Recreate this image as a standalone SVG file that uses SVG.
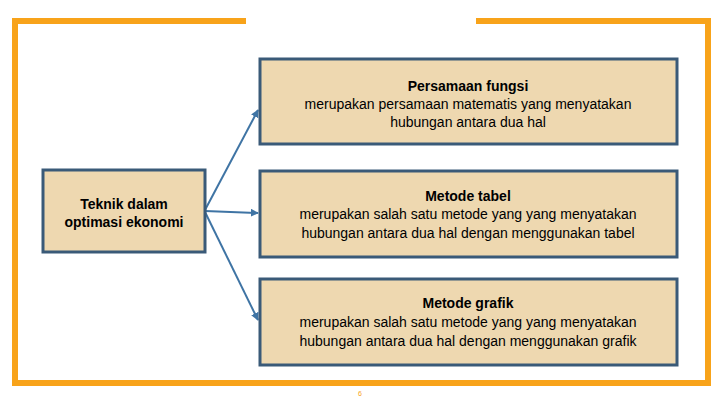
<svg xmlns="http://www.w3.org/2000/svg" width="720" height="405" viewBox="0 0 720 405">
<style>
.b{fill:#eed8b0;stroke:#3a5a78;stroke-width:3}
.t{font-family:"Liberation Sans",Arial,sans-serif;font-size:14px;fill:#000;text-anchor:middle}
.h{font-weight:bold}
.f{fill:#f8a31a}
.c{stroke:#3f74a4;stroke-width:2;fill:none;marker-end:url(#a)}
</style>
<defs><marker id="a" viewBox="0 0 10 10" refX="9" refY="5" markerWidth="4" markerHeight="4" orient="auto"><path d="M0,0L10,5L0,10z" fill="#3f74a4"/></marker></defs>
<rect width="720" height="405" fill="#fff"/>
<g id="frame">
<rect class="f" x="12" y="18" width="234" height="6"/>
<rect class="f" x="476" y="18" width="235" height="6"/>
<rect class="f" x="12" y="18" width="6" height="368"/>
<rect class="f" x="705" y="18" width="6" height="368"/>
<rect class="f" x="12" y="380" width="699" height="6"/>
</g>
<g id="connectors">
<path class="c" d="M205,210L258,110"/>
<path class="c" d="M205,211L258,213"/>
<path class="c" d="M205,212L258,320"/>
</g>
<g id="n0"><rect class="b" x="43" y="170" width="162" height="82"/>
<text class="t h" x="124" y="209">Teknik dalam</text><text class="t h" x="124" y="227">optimasi ekonomi</text></g>
<g id="n1"><rect class="b" x="260" y="59" width="417" height="85"/>
<text class="t h" x="468" y="91">Persamaan fungsi</text>
<text class="t" x="468" y="109">merupakan persamaan matematis yang menyatakan</text>
<text class="t" x="468" y="127">hubungan antara dua hal</text></g>
<g id="n2"><rect class="b" x="260" y="171" width="417" height="86"/>
<text class="t h" x="468" y="201">Metode tabel</text>
<text class="t" x="468" y="219">merupakan salah satu metode yang yang menyatakan</text>
<text class="t" x="468" y="238">hubungan antara dua hal dengan menggunakan tabel</text></g>
<g id="n3"><rect class="b" x="260" y="279" width="417" height="86"/>
<text class="t h" x="468" y="308">Metode grafik</text>
<text class="t" x="468" y="327">merupakan salah satu metode yang yang menyatakan</text>
<text class="t" x="468" y="346">hubungan antara dua hal dengan menggunakan grafik</text></g>
<text x="360" y="396" font-family="Liberation Sans,sans-serif" font-size="7" fill="#f8a31a" text-anchor="middle">6</text>
</svg>
